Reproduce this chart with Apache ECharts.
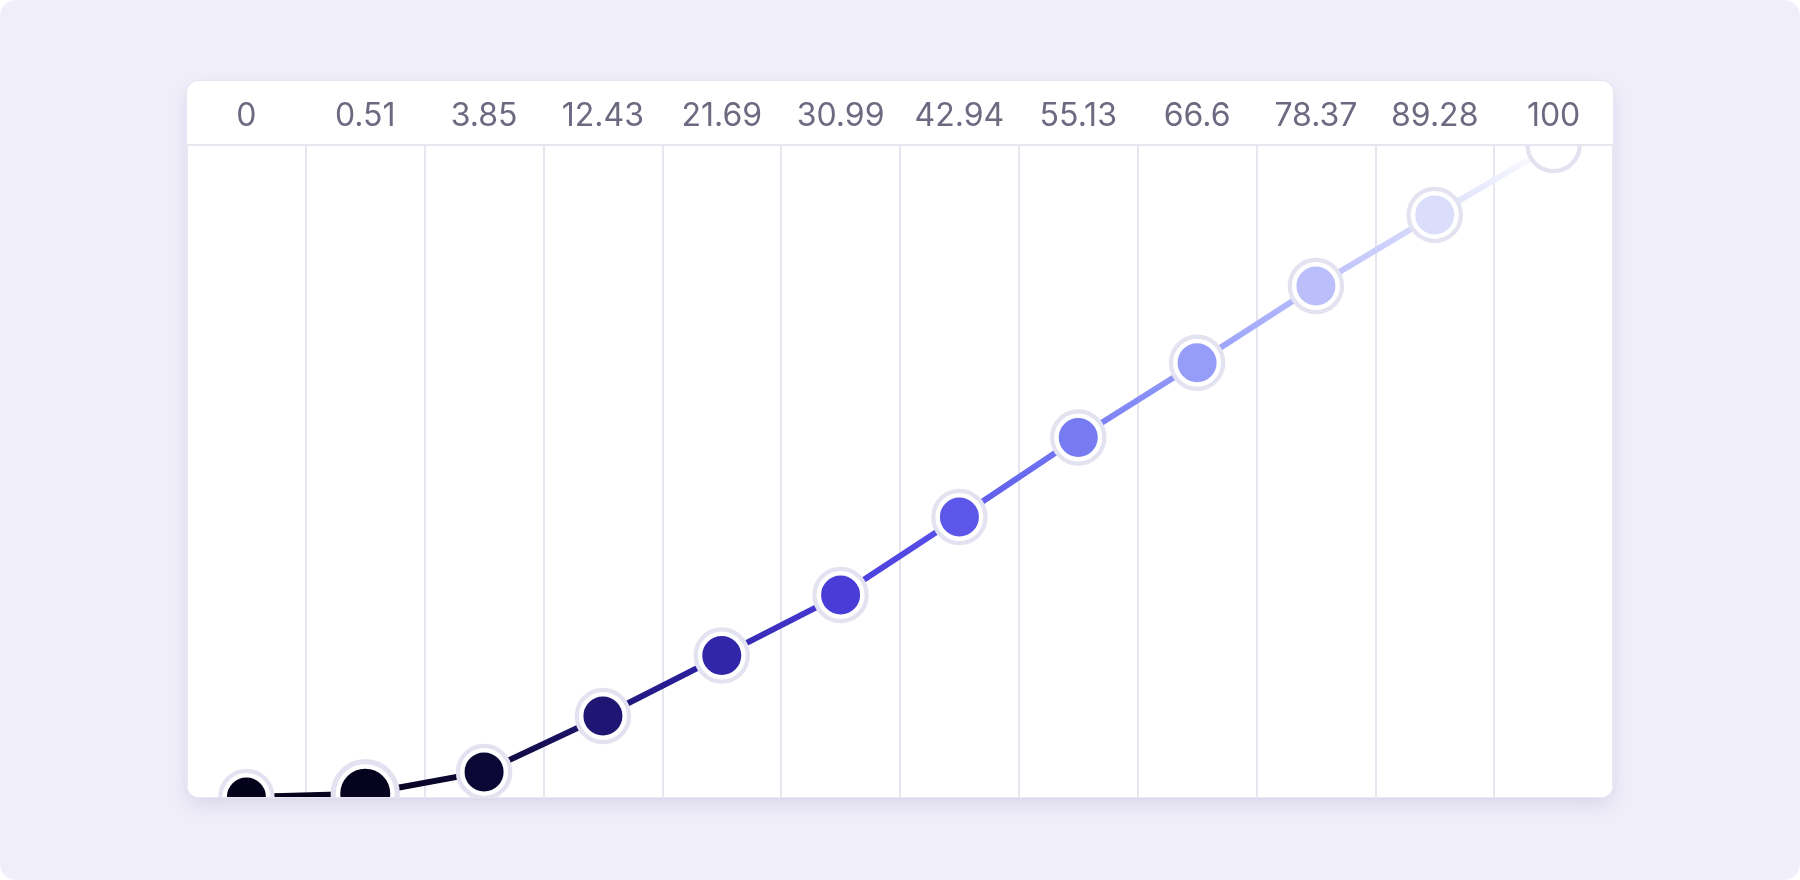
<!DOCTYPE html>
<html>
<head>
<meta charset="utf-8">
<script src="https://cdn.jsdelivr.net/npm/echarts@6/dist/echarts.min.js"></script>
<style>
  html, body { margin: 0; padding: 0; background: #ffffff; }
  #bg { position: absolute; left: 0; top: 0; width: 1800px; height: 880px; background: #f0eff9; border-radius: 16px; }
  #card { position: absolute; left: 187px; top: 81px; width: 1426px; height: 716px; background: #ffffff;
          border-radius: 12px; overflow: hidden;
          box-shadow: 0 0 0 1px #e7e6f2, 0 8px 20px rgba(50, 40, 120, 0.12); }
</style>
</head>
<body>
<div id="bg"></div>
<div id="card"></div>
<script>
const tickLabels = ['0', '0.51', '3.85', '12.43', '21.69', '30.99', '42.94', '55.13', '66.6', '78.37', '89.28', '100'];
const values = [0, 0.51, 3.85, 12.43, 21.69, 30.99, 42.94, 55.13, 66.6, 78.37, 89.28, 100];
const activeIndex = 1;

const palette = ['#04021a', '#1a1263', '#2c21a0', '#473bd7', '#574ee6', '#6a6cef', '#838af5', '#a0a7f9', '#bfc3fb', '#dde0fb', '#ffffff'];
const FILL_SIZE = 43.5, RING_SIZE = 51, ACTIVE_SCALE = 1.25;

const chart = echarts.init(document.getElementById('card'), null, { renderer: 'canvas' });
chart.setOption({
  animation: false,
  grid: { left: 0, right: 0, top: 64, bottom: 0 },
  xAxis: [
    {
      type: 'category', data: tickLabels, position: 'top', boundaryGap: true, z: 0,
      axisLine: { show: false }, axisTick: { show: false }, axisLabel: { show: false },
      splitLine: { show: true, interval: 0, lineStyle: { color: '#e6e5f0', width: 2 } }
    },
    {
      type: 'category', data: tickLabels, position: 'top', boundaryGap: true, z: 10,
      axisLine: { show: true, lineStyle: { color: '#e6e5f0', width: 2 } },
      axisTick: { show: false }, splitLine: { show: false },
      axisLabel: { show: true, interval: 0, margin: 29, verticalAlign: 'middle', lineHeight: 32,
                   fontFamily: 'Inter', fontSize: 32, color: '#6b6a80' }
    }
  ],
  yAxis: { type: 'value', min: 0, max: 100, show: false, splitLine: { show: false } },
  visualMap: {
    type: 'continuous', show: false, min: 0, max: 100, dimension: 1,
    seriesIndex: [0, 2], inRange: { color: palette }
  },
  graphic: [
    { type: 'rect', z: 6, shape: { x: 0, y: 0, width: 1426, height: 63 }, style: { fill: '#ffffff' } }
  ],
  series: [
    {
      type: 'line', data: values, z: 2, showSymbol: false, clip: false, silent: true,
      lineStyle: { width: 6 }
    },
    {
      type: 'scatter', data: values, z: 3, clip: false, silent: true, symbol: 'circle',
      symbolSize: (v, p) => p.dataIndex === activeIndex ? RING_SIZE * ACTIVE_SCALE : RING_SIZE,
      itemStyle: { color: '#ffffff', borderColor: '#e3e2f0', borderWidth: 5.5, opacity: 1 }
    },
    {
      type: 'scatter', data: values, z: 4, clip: false, silent: true, symbol: 'circle',
      symbolSize: (v, p) => p.dataIndex === activeIndex ? FILL_SIZE * ACTIVE_SCALE : FILL_SIZE,
      itemStyle: { borderColor: '#ffffff', borderWidth: 4.5, opacity: 1 }
    }
  ]
});
</script>
</body>
</html>
